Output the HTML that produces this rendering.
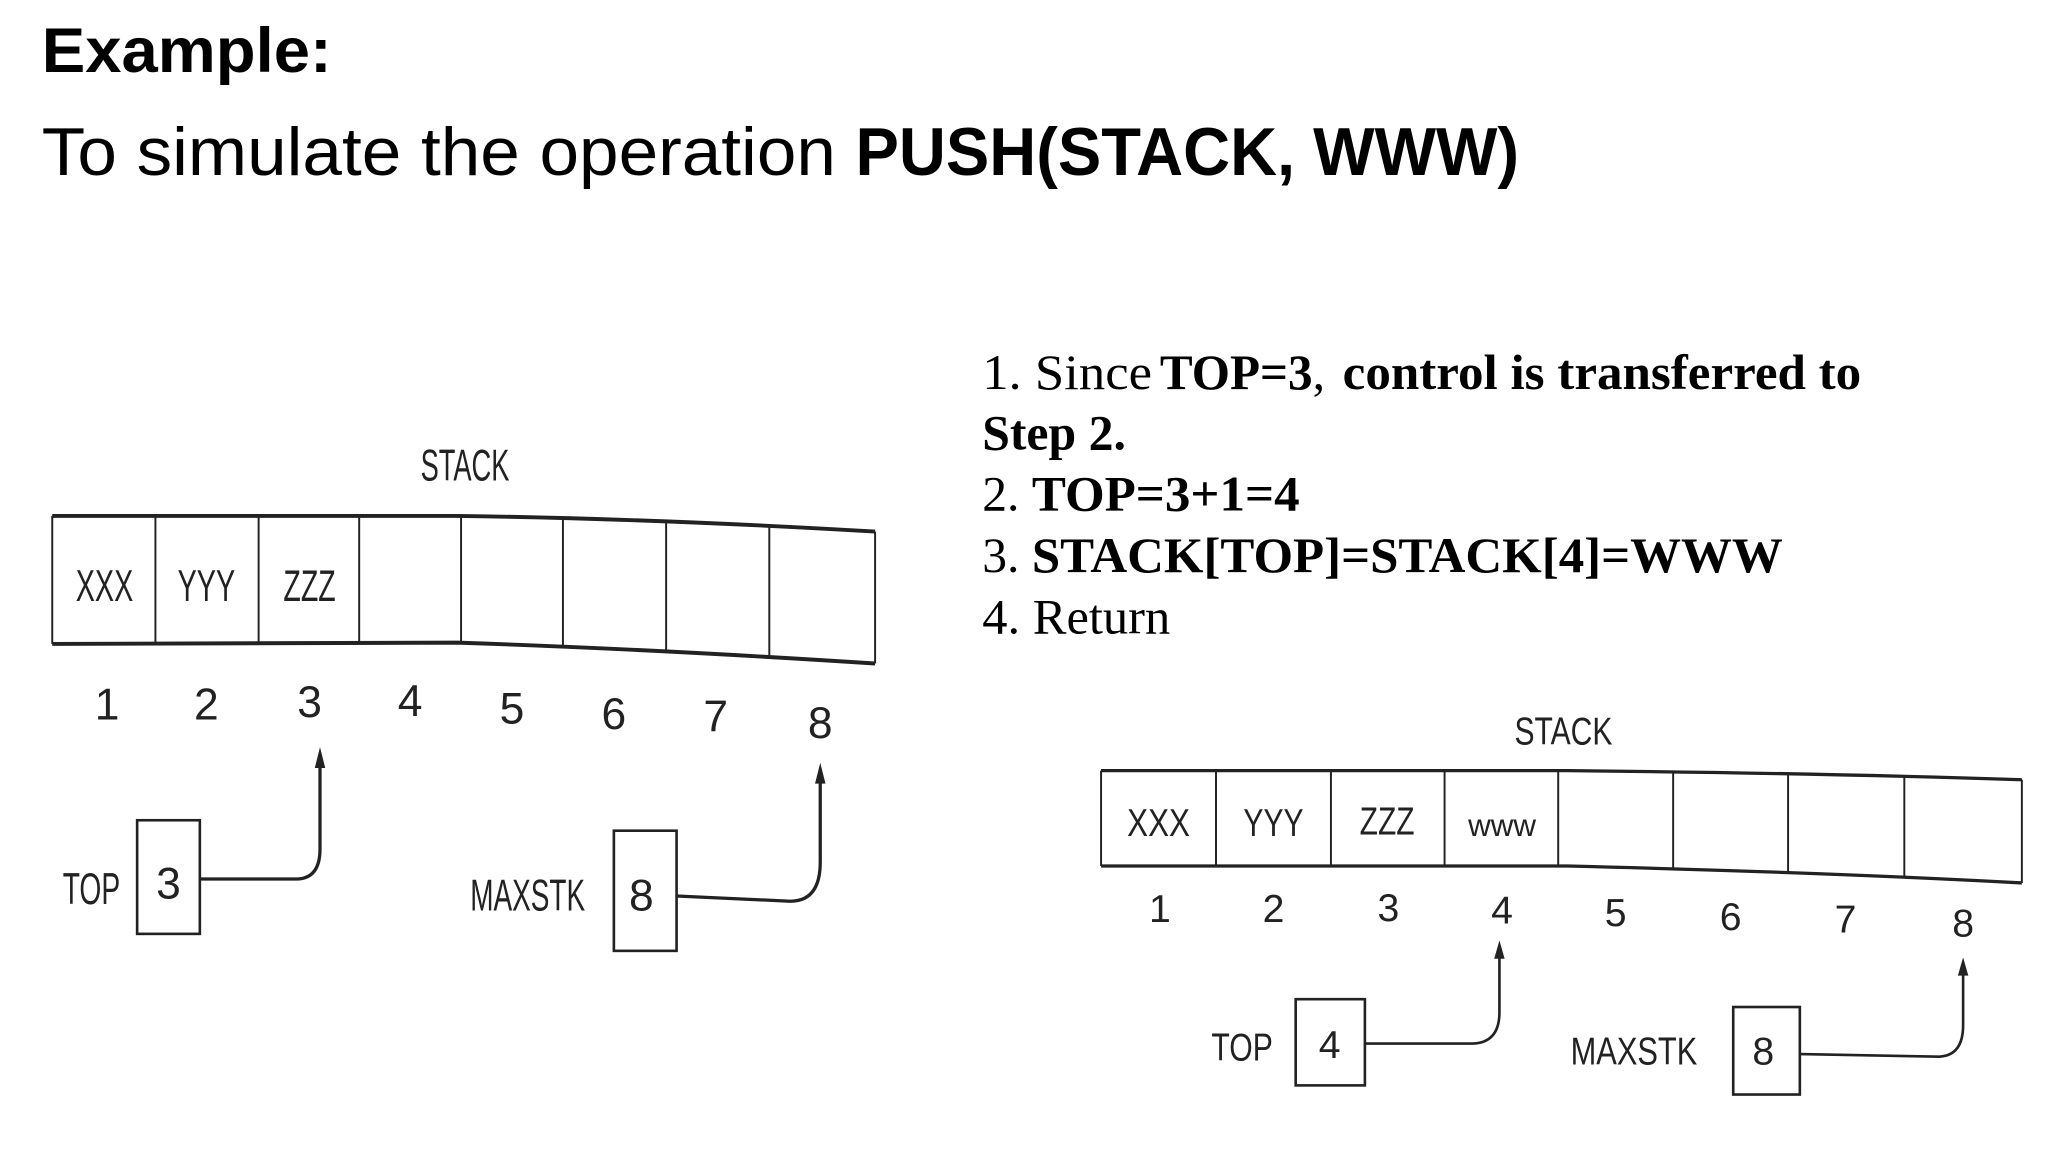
<!DOCTYPE html>
<html><head><meta charset="utf-8"><style>
html,body{margin:0;padding:0;background:#fff;}
svg{display:block;}
.s{font-family:"Liberation Sans",sans-serif;}
.t{font-family:"Liberation Serif",serif;}
.d{font-family:"Liberation Sans",sans-serif;fill:#222;}
</style></head><body>
<svg width="2048" height="1152" viewBox="0 0 1568 882" preserveAspectRatio="none" xmlns="http://www.w3.org/2000/svg">
<rect width="1568" height="882" fill="#fff"/>
<text class="s" x="32" y="55" font-size="48" font-weight="bold" textLength="222" lengthAdjust="spacingAndGlyphs">Example:</text>
<text class="s" x="32" y="134" font-size="52" textLength="608" lengthAdjust="spacingAndGlyphs">To simulate the operation</text>
<text class="s" x="655" y="134" font-size="52" font-weight="bold" textLength="508" lengthAdjust="spacingAndGlyphs">PUSH(STACK, WWW)</text>

<g class="t" font-size="38">
<text x="752" y="298" textLength="130" lengthAdjust="spacingAndGlyphs">1. Since</text>
<text x="888" y="298" font-weight="bold" textLength="117" lengthAdjust="spacingAndGlyphs">TOP=3</text>
<text x="1005" y="298">,</text>
<text x="1028" y="298" font-weight="bold" textLength="397" lengthAdjust="spacingAndGlyphs">control is transferred to</text>
<text x="752" y="344" font-weight="bold" textLength="110" lengthAdjust="spacingAndGlyphs">Step 2.</text>
<text x="752" y="391">2.</text>
<text x="790" y="391" font-weight="bold" textLength="205" lengthAdjust="spacingAndGlyphs">TOP=3+1=4</text>
<text x="752" y="438">3.</text>
<text x="790" y="438" font-weight="bold" textLength="575" lengthAdjust="spacingAndGlyphs">STACK[TOP]=STACK[4]=WWW</text>
<text x="752" y="485" textLength="144" lengthAdjust="spacingAndGlyphs">4. Return</text>
</g>

<!-- Left diagram -->
<g fill="none" stroke="#222">
<path d="M40 395 L350 395 Q500 397 670 407" stroke-width="3"/>
<path d="M40 493 L350 492 Q500 497 670 508" stroke-width="3"/>
<g stroke-width="1.5">
<line x1="40" y1="395" x2="40" y2="493"/>
<line x1="119" y1="395" x2="119" y2="493"/>
<line x1="198" y1="395" x2="198" y2="492"/>
<line x1="275" y1="395" x2="275" y2="492"/>
<line x1="353" y1="395" x2="353" y2="492"/>
<line x1="431" y1="397" x2="431" y2="495"/>
<line x1="510" y1="399" x2="510" y2="500"/>
<line x1="589" y1="402" x2="589" y2="504"/>
<line x1="670" y1="407" x2="670" y2="508"/>
</g>
<rect x="105" y="628" width="48" height="87" stroke-width="2"/>
<rect x="470" y="636" width="48" height="92" stroke-width="2"/>
<path d="M153 673 L228 673 Q245 672 245 650 L245 585" stroke-width="2.5"/>
<path d="M518 686 L605 690 Q628 690 628 660 L628 597" stroke-width="2.5"/>
</g>
<path d="M245 572 L241 588 L249 588 Z" fill="#222"/>
<path d="M628 584 L624 600 L632 600 Z" fill="#222"/>
<g class="d" font-size="34" text-anchor="middle">
<text x="356" y="368" textLength="68" lengthAdjust="spacingAndGlyphs">STACK</text>
<text x="80" y="460" textLength="44" lengthAdjust="spacingAndGlyphs">XXX</text>
<text x="158" y="460" textLength="44" lengthAdjust="spacingAndGlyphs">YYY</text>
<text x="237" y="460" textLength="40" lengthAdjust="spacingAndGlyphs">ZZZ</text>
<text x="82" y="551">1</text>
<text x="158" y="551">2</text>
<text x="237" y="549">3</text>
<text x="314" y="548">4</text>
<text x="392" y="554">5</text>
<text x="470" y="558">6</text>
<text x="548" y="560">7</text>
<text x="628" y="565">8</text>
<text x="70" y="692" textLength="44" lengthAdjust="spacingAndGlyphs">TOP</text>
<text x="129" y="688">3</text>
<text x="404" y="697" textLength="88" lengthAdjust="spacingAndGlyphs">MAXSTK</text>
<text x="491" y="697">8</text>
</g>

<!-- Right diagram -->
<g fill="none" stroke="#222">
<path d="M843 590 L1200 590 Q1400 592 1548 597" stroke-width="2.5"/>
<path d="M843 663 L1200 663 Q1400 668 1548 676" stroke-width="2.5"/>
<g stroke-width="1.5">
<line x1="843" y1="590" x2="843" y2="663"/>
<line x1="931" y1="590" x2="931" y2="663"/>
<line x1="1019" y1="590" x2="1019" y2="663"/>
<line x1="1106" y1="590" x2="1106" y2="663"/>
<line x1="1193" y1="590" x2="1193" y2="663"/>
<line x1="1281" y1="591" x2="1281" y2="665"/>
<line x1="1369" y1="592" x2="1369" y2="668"/>
<line x1="1458" y1="594" x2="1458" y2="672"/>
<line x1="1548" y1="597" x2="1548" y2="676"/>
</g>
<rect x="992" y="765" width="53" height="66" stroke-width="2"/>
<rect x="1327" y="771" width="51" height="67" stroke-width="2"/>
<path d="M1045 799 L1128 799 Q1148 798 1148 775 L1148 732" stroke-width="2"/>
<path d="M1378 807 L1485 809 Q1503 808 1503 785 L1503 745" stroke-width="2"/>
</g>
<path d="M1148 720 L1144 734 L1152 734 Z" fill="#222"/>
<path d="M1503 733 L1499 747 L1507 747 Z" fill="#222"/>
<g class="d" font-size="30" text-anchor="middle">
<text x="1197" y="570" textLength="75" lengthAdjust="spacingAndGlyphs">STACK</text>
<text x="887" y="640" textLength="48" lengthAdjust="spacingAndGlyphs">XXX</text>
<text x="975" y="640" textLength="46" lengthAdjust="spacingAndGlyphs">YYY</text>
<text x="1062" y="639" textLength="42" lengthAdjust="spacingAndGlyphs">ZZZ</text>
<text x="1150" y="640" font-size="24" textLength="52" lengthAdjust="spacingAndGlyphs">www</text>
<text x="888" y="706">1</text>
<text x="975" y="706">2</text>
<text x="1063" y="705">3</text>
<text x="1150" y="707">4</text>
<text x="1237" y="709">5</text>
<text x="1325" y="712">6</text>
<text x="1413" y="714">7</text>
<text x="1503" y="717">8</text>
<text x="951" y="812" textLength="47" lengthAdjust="spacingAndGlyphs">TOP</text>
<text x="1018" y="810">4</text>
<text x="1251" y="815" textLength="97" lengthAdjust="spacingAndGlyphs">MAXSTK</text>
<text x="1350" y="815">8</text>
</g>
</svg>
</body></html>
